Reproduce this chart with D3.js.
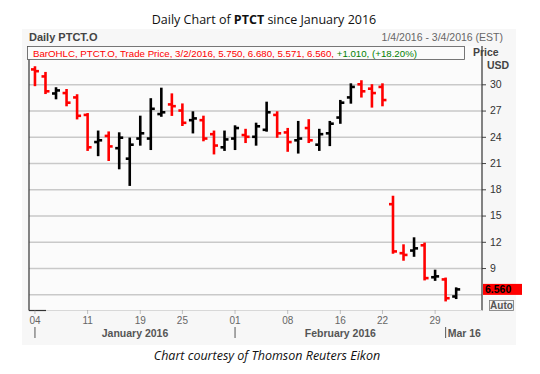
<!DOCTYPE html>
<html><head><meta charset="utf-8">
<script src="https://cdn.jsdelivr.net/npm/d3@7"></script>
<style>body{margin:0;background:#fff}svg{display:block}</style>
</head><body><svg id="c" width="540" height="374"></svg>
<script>
const dates = ["2016-01-04","2016-01-05","2016-01-06","2016-01-07","2016-01-08",
"2016-01-11","2016-01-12","2016-01-13","2016-01-14","2016-01-15",
"2016-01-19","2016-01-20","2016-01-21","2016-01-22",
"2016-01-25","2016-01-26","2016-01-27","2016-01-28","2016-01-29",
"2016-02-01","2016-02-02","2016-02-03","2016-02-04","2016-02-05",
"2016-02-08","2016-02-09","2016-02-10","2016-02-11","2016-02-12",
"2016-02-16","2016-02-17","2016-02-18","2016-02-19",
"2016-02-22","2016-02-23","2016-02-24","2016-02-25","2016-02-26",
"2016-02-29","2016-03-01","2016-03-02","2016-03-03","2016-03-04"];
const opens  = [31.7,30.9,28.95,29.0,28.5,26.5,23.4,24.1,22.7,21.5,23.8,23.8,26.6,27.7,27.0,25.9,25.9,24.3,22.8,23.8,24.2,24.0,24.8,26.5,24.5,23.6,25.0,23.1,24.4,26.2,28.5,30.0,29.5,29.7,16.3,10.7,11.0,11.6,7.95,7.7,5.75];
const highs  = [31.95,31.3,29.55,29.35,28.75,26.6,24.6,24.5,24.4,23.8,26.3,28.3,29.5,28.85,27.7,26.8,26.3,24.6,24.6,25.2,24.8,25.5,27.9,26.8,24.9,25.7,25.9,24.8,25.7,28.1,30.0,30.35,29.9,30.0,17.15,11.6,12.4,11.8,8.7,7.8,6.68];
const lows   = [29.9,29.0,28.4,27.6,26.1,22.5,21.9,21.35,20.4,18.5,23.1,22.6,26.4,26.5,25.35,24.5,23.6,22.1,22.5,22.6,23.4,23.1,24.7,24.0,22.4,22.2,23.4,22.5,23.05,25.6,27.9,28.6,27.45,27.6,10.75,9.95,10.4,7.7,7.65,5.3,5.571];
const closes = [31.5,29.2,29.3,27.9,26.4,22.8,23.6,22.9,23.9,23.1,24.4,27.2,26.8,27.5,25.6,26.1,23.8,23.0,23.7,25.0,24.0,25.2,26.8,24.4,23.4,23.8,23.6,24.3,25.5,27.9,29.7,29.2,29.0,28.2,10.9,10.5,11.25,7.85,8.05,5.55,6.56];
const yTickValues = [6,9,12,15,18,21,24,27,30];
const xTickDates  = ["2016-01-04","2016-01-11","2016-01-19","2016-01-25","2016-02-01","2016-02-08","2016-02-16","2016-02-22","2016-02-29"];
const xTickLabels = ["04","11","19","25","01","08","16","22","29"];
const monthLabels = ["January 2016","February 2016","Mar 16"];
const monthStarts = ["2016-01-04","2016-02-01","2016-03-01"];
const lastPrice = 6.56;

const svg = d3.select("#c");
const F = "'Liberation Sans', Arial, sans-serif";
const L = 29, R = 482, T = 46, B = 310.5;

svg.append("rect").attr("x",22).attr("y",29).attr("width",494).attr("height",316).attr("fill","#f7f7f7");
svg.append("rect").attr("x",L).attr("y",T).attr("width",R-L).attr("height",B-T).attr("fill","#fbfbfb");

const x = d3.scaleBand().domain(dates).range([29.7,482.5]).padding(0);
const cx = d => x(d) + x.bandwidth()/2;
const y = d3.scaleLinear().domain([6,30]).range([294.3,84.3]);

const gGrid = svg.append("g").attr("transform",`translate(${R},0)`)
  .call(d3.axisRight(y).tickValues(yTickValues).tickSize(-(R-L)).tickFormat(""));
gGrid.select(".domain").remove();
gGrid.selectAll("line").attr("stroke","#c9c9c9").attr("stroke-width",1.5);

const gY = svg.append("g").attr("transform",`translate(${R},0)`)
  .call(d3.axisRight(y).tickValues(yTickValues.filter(v=>v!==6)).tickSize(4).tickPadding(4).tickFormat(d3.format("d")));
gY.select(".domain").remove();
gY.selectAll("line").attr("stroke","#444");
gY.selectAll("text").attr("font-family",F).attr("font-size",10.5).attr("fill","#333");

svg.append("line").attr("x1",L).attr("x2",L).attr("y1",T).attr("y2",B).attr("stroke","#333").attr("stroke-width",1.2);
svg.append("line").attr("x1",R).attr("x2",R).attr("y1",T).attr("y2",B).attr("stroke","#333").attr("stroke-width",1.2);
svg.append("line").attr("x1",L).attr("x2",R).attr("y1",B).attr("y2",B).attr("stroke","#d8d8d8").attr("stroke-width",1);
svg.append("line").attr("x1",L).attr("x2",46).attr("y1",B).attr("y2",B).attr("stroke","#333").attr("stroke-width",1.2);

const data = opens.map((o,i)=>({d:dates[i],o,h:highs[i],l:lows[i],c:closes[i]}));
const gb = svg.append("g");
data.forEach(b=>{
  const col = b.c >= b.o ? "#000" : "#ff0000";
  const g = gb.append("g").attr("stroke",col).attr("stroke-width",2.6);
  g.append("line").attr("x1",cx(b.d)).attr("x2",cx(b.d)).attr("y1",y(b.h)-1).attr("y2",y(b.l)+1);
  g.append("line").attr("x1",cx(b.d)-4).attr("x2",cx(b.d)).attr("y1",y(b.o)).attr("y2",y(b.o));
  g.append("line").attr("x1",cx(b.d)).attr("x2",cx(b.d)+4).attr("y1",y(b.c)).attr("y2",y(b.c));
});

const gx = svg.append("g").attr("transform",`translate(0,${B})`)
  .call(d3.axisBottom(x).tickValues(xTickDates).tickSize(4).tickPadding(2).tickFormat((d,i)=>xTickLabels[i]));
gx.select(".domain").remove();
gx.selectAll("line").attr("stroke","#888").attr("stroke-dasharray","1,1");
gx.selectAll("text").attr("font-family",F).attr("font-size",10).attr("fill","#666");

const mx = monthStarts.map(cx);
[0,1].forEach(i=>{
  svg.append("line").attr("x1",mx[i]).attr("x2",mx[i]).attr("y1",327).attr("y2",338).attr("stroke","#555").attr("stroke-width",1);
  svg.append("text").attr("x",(mx[i]+mx[i+1])/2).attr("y",337).attr("text-anchor","middle")
    .attr("font-family",F).attr("font-size",10.5).attr("font-weight","bold").attr("fill","#555").text(monthLabels[i]);
});
svg.append("line").attr("x1",mx[2]).attr("x2",mx[2]).attr("y1",327).attr("y2",338).attr("stroke","#555").attr("stroke-width",1);
svg.append("text").attr("x",mx[2]+2).attr("y",337).attr("font-family",F).attr("font-size",10.5).attr("font-weight","bold").attr("fill","#555").text(monthLabels[2]);

const title = svg.append("text").attr("x",264).attr("y",24).attr("text-anchor","middle")
  .attr("font-family","'Open Sans', 'Liberation Sans', sans-serif").attr("font-size",12.5).attr("fill","#111");
title.append("tspan").text("Daily Chart of ");
title.append("tspan").attr("font-weight","bold").text("PTCT");
title.append("tspan").text(" since January 2016");

svg.append("text").attr("x",29).attr("y",41).attr("font-family",F).attr("font-size",11).attr("font-weight","bold").attr("fill","#444").text("Daily PTCT.O");
svg.append("text").attr("x",503).attr("y",41).attr("text-anchor","end").attr("font-family",F).attr("font-size",10.5).attr("fill","#666").text("1/4/2016 - 3/4/2016 (EST)");

svg.append("rect").attr("x",27.5).attr("y",46.5).attr("width",437).attr("height",13).attr("fill","#fbfbfb").attr("stroke","#555").attr("stroke-width",0.8);
const lg = svg.append("text").attr("x",33).attr("y",56.5).attr("font-family",F).attr("font-size",9.7);
lg.append("tspan").attr("fill","#ff0000").text("BarOHLC, PTCT.O, Trade Price,  3/2/2016, 5.750, 6.680, 5.571, 6.560, ");
lg.append("tspan").attr("fill","#008000").text("+1.010, (+18.20%)");

svg.append("text").attr("x",473).attr("y",56).attr("font-family",F).attr("font-size",10.5).attr("font-weight","bold").attr("fill","#444").text("Price");
svg.append("text").attr("x",487).attr("y",69).attr("font-family",F).attr("font-size",10.5).attr("font-weight","bold").attr("fill","#444").text("USD");

svg.append("rect").attr("x",483).attr("y",y(lastPrice)-5.5).attr("width",39).attr("height",11).attr("fill","#ff0000");
svg.append("text").attr("x",485).attr("y",y(lastPrice)+4).attr("font-family",F).attr("font-size",10.5).attr("font-weight","bold").attr("fill","#000").text(d3.format(".3f")(lastPrice));

svg.append("rect").attr("x",489.5).attr("y",300.5).attr("width",24).attr("height",10).attr("fill","#f4f4f4").attr("stroke","#777").attr("stroke-width",0.8);
svg.append("text").attr("x",501.5).attr("y",309.3).attr("text-anchor","middle").attr("font-family",F).attr("font-size",10).attr("font-weight","bold").attr("fill","#555").text("Auto");

svg.append("text").attr("x",267).attr("y",360).attr("text-anchor","middle").attr("font-family","'Open Sans', 'Liberation Sans', sans-serif")
  .attr("font-size",12.5).attr("font-style","italic").attr("fill","#111").text("Chart courtesy of Thomson Reuters Eikon");
</script></body></html>
